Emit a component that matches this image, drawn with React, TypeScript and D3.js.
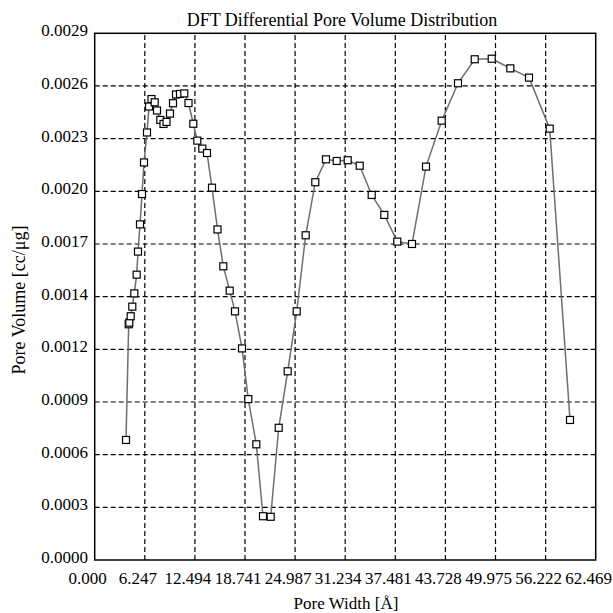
import React from "react";
import * as d3 from "d3";

// Pore width (Å) for each DFT point
const poreWidth = [
  3.903, 4.239, 4.314, 4.489, 4.688, 4.938, 5.237, 5.399, 5.648, 5.898,
  6.147, 6.521, 6.771, 7.082, 7.481, 7.768, 8.18, 8.579, 8.953, 9.389,
  9.763, 10.137, 10.636, 11.172, 11.696, 12.294, 12.793, 13.417, 14.003, 14.626,
  15.312, 16.035, 16.833, 17.494, 18.367, 19.152, 20.15, 20.985, 21.945, 22.943,
  24.065, 25.187, 26.309, 27.506, 28.84, 30.174, 31.546, 33.042, 34.538, 36.11,
  37.731, 39.564, 41.31, 43.268, 45.301, 47.383, 49.503, 51.822, 54.153, 56.734,
  59.265,
];

// Differential pore volume (cc/μg) for each point
const poreVolume = [
  0.000661, 0.001298, 0.001307, 0.001342, 0.001395, 0.001468, 0.001571, 0.001698, 0.001848, 0.002015,
  0.002189, 0.002354, 0.002497, 0.002538, 0.00252, 0.002475, 0.002423, 0.002401, 0.002412, 0.002458,
  0.002515, 0.002563, 0.002566, 0.002569, 0.002516, 0.002402, 0.002309, 0.002265, 0.002241, 0.00205,
  0.00182, 0.001617, 0.001483, 0.001369, 0.001165, 0.000886, 0.000637, 0.000241, 0.000238, 0.000728,
  0.001039, 0.001369, 0.001788, 0.00208, 0.002206, 0.002197, 0.002201, 0.002171, 0.00201, 0.0019,
  0.001753, 0.00174, 0.002166, 0.002419, 0.002625, 0.002757, 0.00276, 0.002707, 0.002656, 0.002375,
  0.000771,
];

const xTickLabels = [
  "0.000", "6.247", "12.494", "18.741", "24.987", "31.234",
  "37.481", "43.728", "49.975", "56.222", "62.469",
];
const yTickLabels = [
  "0.0000", "0.0003", "0.0006", "0.0009", "0.0012", "0.0014",
  "0.0017", "0.0020", "0.0023", "0.0026", "0.0029",
];

const X_MAX = 62.469;
const Y_MAX = 0.0029;

const W = 613;
const H = 613;
const margin = { left: 94.7, right: W - 595.7, top: 33.3, bottom: H - 560 };
const FONT = "'Liberation Serif', 'Times New Roman', serif";

export default function App() {
  const x = d3.scaleLinear().domain([0, X_MAX]).range([margin.left, W - margin.right]);
  const y = d3.scaleLinear().domain([0, Y_MAX]).range([H - margin.bottom, margin.top]);

  const xTicks = xTickLabels.map((t, i) => ({ label: t, v: (X_MAX * i) / 10 }));
  const yTicks = yTickLabels.map((t, i) => ({ label: t, v: (Y_MAX * i) / 10 }));

  const pts = poreWidth.map((w, i) => [w, poreVolume[i]] as [number, number]);
  const line = d3
    .line<[number, number]>()
    .x((d) => x(d[0]))
    .y((d) => y(d[1]));

  const x0 = x(0);
  const x1 = x(X_MAX);
  const y0 = y(0);
  const y1 = y(Y_MAX);
  const ms = 7;

  return (
    <svg
      width={W}
      height={H}
      style={{ position: "absolute", left: 0, top: 0, background: "#fff" }}
      fontFamily={FONT}
    >
      <rect x={0} y={0} width={W} height={H} fill="#fff" />
      {/* dashed grid */}
      {yTicks.slice(1, -1).map((t) => (
        <line
          key={"gy" + t.label}
          x1={x0}
          x2={x1}
          y1={y(t.v)}
          y2={y(t.v)}
          stroke="#000"
          strokeWidth={1.2}
          strokeDasharray="5,3"
        />
      ))}
      {xTicks.slice(1, -1).map((t) => (
        <line
          key={"gx" + t.label}
          x1={x(t.v)}
          x2={x(t.v)}
          y1={y0}
          y2={y1}
          stroke="#000"
          strokeWidth={1.2}
          strokeDasharray="5,3"
        />
      ))}
      {/* frame */}
      <rect
        x={x0}
        y={y1}
        width={x1 - x0}
        height={y0 - y1}
        fill="none"
        stroke="#000"
        strokeWidth={1.5}
      />
      {/* series */}
      <path d={line(pts) || ""} fill="none" stroke="#6e6e6e" strokeWidth={1.5} />
      {pts.map((d, i) => (
        <rect
          key={i}
          x={x(d[0]) - ms / 2}
          y={y(d[1]) - ms / 2}
          width={ms}
          height={ms}
          fill="#fff"
          stroke="#000"
          strokeWidth={1.2}
        />
      ))}
      {/* tick labels */}
      {yTicks.map((t) => (
        <text
          key={"ty" + t.label}
          x={88}
          y={y(t.v) + 3}
          textAnchor="end"
          fontSize={17}
          fill="#000"
        >
          {t.label}
        </text>
      ))}
      {xTicks.map((t) => (
        <text
          key={"tx" + t.label}
          x={x(t.v) - 7}
          y={584}
          textAnchor="middle"
          fontSize={17}
          fill="#000"
        >
          {t.label}
        </text>
      ))}
      {/* titles */}
      <text x={342} y={26} textAnchor="middle" fontSize={18} fill="#000">
        DFT Differential Pore Volume Distribution
      </text>
      <text x={346} y={609} textAnchor="middle" fontSize={17} fill="#000">
        Pore Width [Å]
      </text>
      <text
        transform="translate(25,300) rotate(-90)"
        textAnchor="middle"
        fontSize={18}
        fill="#000"
      >
        Pore Volume [cc/μg]
      </text>
    </svg>
  );
}
